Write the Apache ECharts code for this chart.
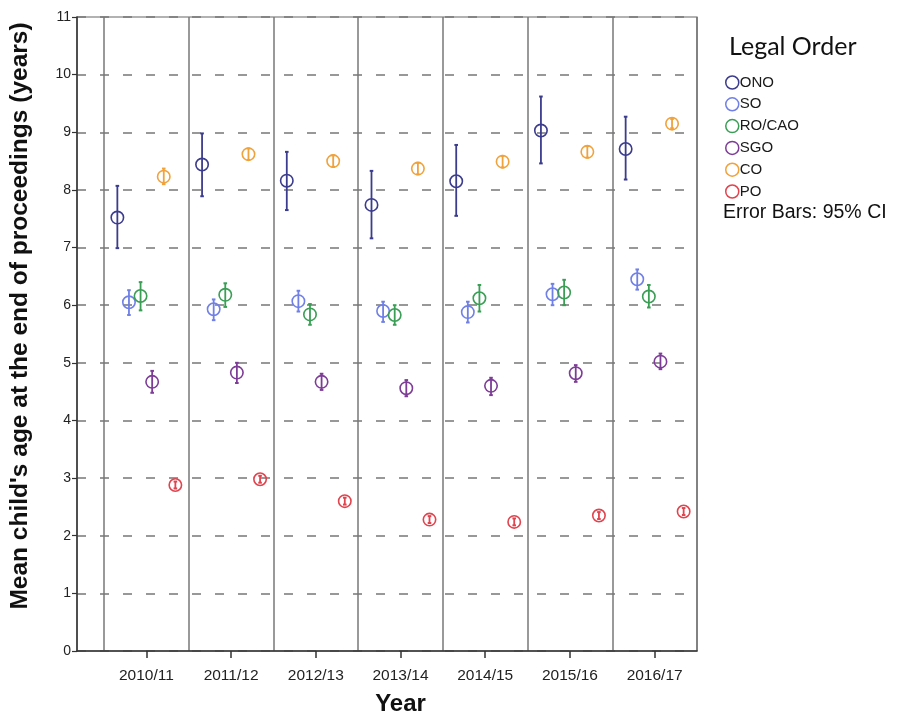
<!DOCTYPE html>
<html>
<head>
<meta charset="utf-8">
<script src="https://cdn.jsdelivr.net/npm/echarts@6/dist/echarts.min.js"></script>
<style>html,body{margin:0;padding:0;background:#fff}#c{width:897px;height:715px}</style>
</head>
<body>
<div id="c"></div>
<script>
const categories = ['2010/11','2011/12','2012/13','2013/14','2014/15','2015/16','2016/17'];
const groupNames = ['ONO','SO','RO/CAO','SGO','CO','PO'];
const yTicks = [0,1,2,3,4,5,6,7,8,9,10,11];

const onoMean = [7.52, 8.44, 8.16, 7.74, 8.15, 9.03, 8.71];
const onoLow  = [6.99, 7.89, 7.65, 7.16, 7.55, 8.46, 8.18];
const onoHigh = [8.07, 8.98, 8.66, 8.33, 8.78, 9.62, 9.27];

const soMean = [6.05, 5.93, 6.07, 5.90, 5.88, 6.19, 6.45];
const soLow  = [5.83, 5.74, 5.89, 5.71, 5.70, 6.00, 6.27];
const soHigh = [6.26, 6.10, 6.25, 6.06, 6.06, 6.37, 6.62];

const roMean = [6.16, 6.18, 5.84, 5.83, 6.12, 6.22, 6.15];
const roLow  = [5.91, 5.97, 5.66, 5.66, 5.89, 6.00, 5.96];
const roHigh = [6.40, 6.38, 6.02, 6.00, 6.35, 6.44, 6.35];

const sgoMean = [4.67, 4.83, 4.67, 4.56, 4.60, 4.82, 5.02];
const sgoLow  = [4.48, 4.65, 4.53, 4.42, 4.44, 4.67, 4.89];
const sgoHigh = [4.86, 5.00, 4.81, 4.70, 4.74, 4.96, 5.16];

const coMean = [8.23, 8.62, 8.50, 8.37, 8.49, 8.66, 9.15];
const coLow  = [8.10, 8.52, 8.40, 8.27, 8.39, 8.56, 9.07];
const coHigh = [8.37, 8.72, 8.60, 8.47, 8.59, 8.76, 9.23];

const poMean = [2.88, 2.98, 2.60, 2.28, 2.24, 2.35, 2.42];
const poLow  = [2.82, 2.92, 2.54, 2.22, 2.18, 2.29, 2.36];
const poHigh = [2.94, 3.04, 2.66, 2.34, 2.30, 2.41, 2.48];

const groups = [
  [onoMean, onoLow, onoHigh],
  [soMean, soLow, soHigh],
  [roMean, roLow, roHigh],
  [sgoMean, sgoLow, sgoHigh],
  [coMean, coLow, coHigh],
  [poMean, poLow, poHigh]
];
const colors = ['#3c3c8e','#7080e6','#3a9e55','#7d3c96','#f0a23c','#e0444e'];

const chart = echarts.init(document.getElementById('c'));
const FONT = '"Liberation Sans", Arial, sans-serif';

const series = groups.map((g, s) => ({
  name: groupNames[s],
  type: 'custom',
  xAxisIndex: 1,
  yAxisIndex: 1,
  itemStyle: { color: colors[s] },
  data: categories.map((c, i) => [i, g[0][i], g[1][i], g[2][i]]),
  renderItem: function (params, api) {
    const x = api.value(0);
    const m = api.coord([x, api.value(1)]);
    const lo = api.coord([x, api.value(2)]);
    const hi = api.coord([x, api.value(3)]);
    const cx = m[0] + (s - 2.5) * 11.6;
    const col = colors[s];
    return {
      type: 'group',
      children: [
        { type: 'line', shape: { x1: cx, y1: hi[1], x2: cx, y2: lo[1] }, style: { stroke: col, lineWidth: 1.8 } },
        { type: 'line', shape: { x1: cx - 1.8, y1: hi[1], x2: cx + 1.8, y2: hi[1] }, style: { stroke: col, lineWidth: 2 } },
        { type: 'line', shape: { x1: cx - 1.8, y1: lo[1], x2: cx + 1.8, y2: lo[1] }, style: { stroke: col, lineWidth: 2 } },
        { type: 'circle', shape: { cx: cx, cy: m[1], r: 6.2 }, style: { fill: 'none', stroke: col, lineWidth: 1.6 } }
      ]
    };
  }
}));

const option = {
  backgroundColor: '#fff',
  animation: false,
  textStyle: { fontFamily: FONT },
  title: [
    { text: 'Legal Order', left: 724, top: 29, textStyle: { fontFamily: 'Lato, "Open Sans", sans-serif', fontSize: 25, fontWeight: 'normal', color: '#111' } },
    { text: 'Error Bars: 95% CI', left: 718, top: 198, textStyle: { fontFamily: FONT, fontSize: 19.5, fontWeight: 'normal', color: '#111' } }
  ],
  legend: {
    orient: 'vertical',
    left: 720,
    top: 70,
    itemWidth: 13,
    itemHeight: 13,
    itemGap: 6.8,
    textStyle: { fontFamily: FONT, fontSize: 15, color: '#1a1a1a', padding: [0, 0, 0, -4] },
    data: groupNames.map((n, s) => ({
      name: n,
      icon: 'circle',
      itemStyle: { color: 'rgba(255,255,255,0)', borderColor: colors[s], borderWidth: 1.5 }
    }))
  },
  grid: [
    { left: 77, right: 200, top: 17, bottom: 64, show: true, borderColor: '#666', borderWidth: 1.2, backgroundColor: 'transparent', outerBoundsMode: 'none' },
    { left: 104, right: 200, top: 17, bottom: 64, outerBoundsMode: 'none' }
  ],
  xAxis: [
    {
      gridIndex: 0, type: 'value', min: 0, max: 1,
      axisLine: { show: true, onZero: false, lineStyle: { color: '#333', width: 1.5 } },
      axisTick: { show: false }, axisLabel: { show: false }, splitLine: { show: false }
    },
    {
      gridIndex: 1, type: 'category', data: categories, boundaryGap: true,
      axisLine: { show: false },
      axisTick: { show: true, alignWithLabel: true, length: 7, lineStyle: { color: '#333', width: 1.5 } },
      axisLabel: { fontSize: 15.5, color: '#222', margin: 17, fontFamily: FONT },
      splitLine: { show: true, lineStyle: { color: '#777', width: 1.5 } },
      name: 'Year', nameLocation: 'middle', nameGap: 41,
      nameTextStyle: { fontSize: 24, fontWeight: 'bold', color: '#111', fontFamily: FONT }
    }
  ],
  yAxis: [
    {
      gridIndex: 0, type: 'value', min: 0, max: 11, interval: 1,
      axisLine: { show: true, lineStyle: { color: '#333', width: 1.5 } },
      axisTick: { show: true, length: 5, lineStyle: { color: '#333', width: 1.2 } },
      axisLabel: { fontSize: 14, color: '#222', margin: 6, fontFamily: FONT,
        formatter: v => (yTicks.indexOf(v) >= 0 ? String(v) : '') },
      splitLine: { show: true, lineStyle: { color: '#777', width: 1.6, type: [9, 14] } },
      name: "Mean child's age at the end of proceedings (years)", nameLocation: 'middle', nameGap: 44,
      nameTextStyle: { fontSize: 24.5, fontWeight: 'bold', color: '#111', fontFamily: FONT, padding: [0, 0, 0, 36] }
    },
    {
      gridIndex: 1, type: 'value', min: 0, max: 11, interval: 1, show: false,
      splitLine: { show: false }
    }
  ],
  series: series
};
chart.setOption(option);
</script>
</body>
</html>
